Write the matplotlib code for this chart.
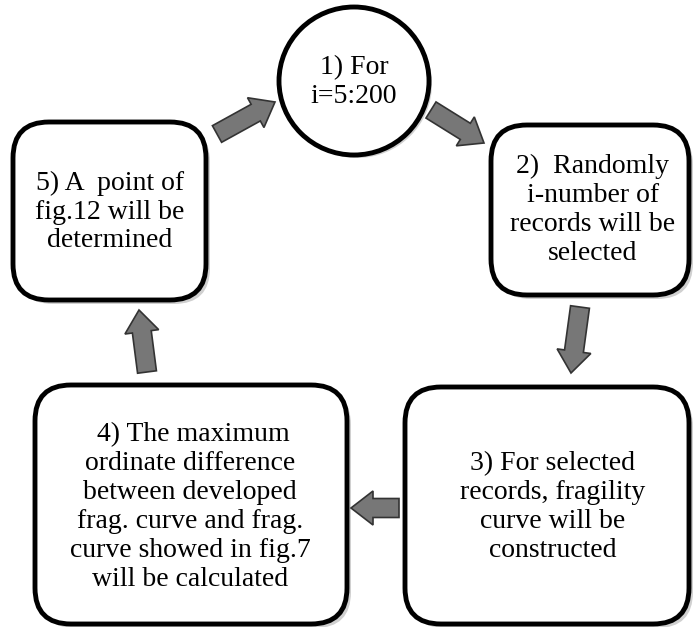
import matplotlib
matplotlib.use("Agg")
import matplotlib.pyplot as plt
from matplotlib.patches import FancyBboxPatch, Ellipse, FancyArrow

plt.rcParams['font.family'] = ['Liberation Serif', 'DejaVu Serif']

# step texts
labels = [
    "1) For\ni=5:200",
    "2)  Randomly\ni-number of\nrecords will be\nselected",
    "3) For selected\nrecords, fragility\ncurve will be\nconstructed",
    " 4) The maximum\nordinate difference\nbetween developed\nfrag. curve and frag.\ncurve showed in fig.7\nwill be calculated",
    "5) A  point of\nfig.12 will be\ndetermined",
]
# boxes: x0, y0, x1, y1 in pixels (top-left origin)
boxes = [(491, 125, 689, 295), (405, 387, 689, 624), (35, 385, 347, 624), (13, 122, 206, 300)]
text_pos = [(354, 82), (593, 210), (553, 507), (190, 507), (110, 212)]
# arrows: start x, start y, end x, end y
arrows = [(217, 134, 275, 102), (431, 110, 484, 143), (580, 307, 571, 373),
          (399, 508, 351, 508), (147, 372, 139, 310)]

fig = plt.figure(figsize=(6.93, 6.27), dpi=100)
ax = fig.add_axes([0, 0, 1, 1])
ax.set_xlim(0, 693)
ax.set_ylim(627, 0)
ax.axis('off')

ax.add_patch(Ellipse((357, 84), 150, 148, fc='#d0d0d0', ec='none'))
ax.add_patch(Ellipse((354, 81), 150, 148, fc='white', ec='black', lw=3.5))

for x0, y0, x1, y1 in boxes:
    ax.add_patch(FancyBboxPatch((x0 + 4, y0 + 4), x1 - x0, y1 - y0,
                                boxstyle="round,pad=0,rounding_size=36",
                                fc='#d0d0d0', ec='none'))
    ax.add_patch(FancyBboxPatch((x0, y0), x1 - x0, y1 - y0,
                                boxstyle="round,pad=0,rounding_size=36",
                                fc='white', ec='black', lw=3.5))

for (tx, ty), t in zip(text_pos, labels):
    ax.text(tx, ty, t, ha='center', va='center', fontsize=20, linespacing=1.2)

for sx, sy, ex, ey in arrows:
    ax.add_patch(FancyArrow(sx, sy, ex - sx, ey - sy, width=19, head_width=34,
                            head_length=22, length_includes_head=True,
                            fc='#777777', ec='#333333', lw=1.2))

fig.savefig('out.png', dpi=100)
